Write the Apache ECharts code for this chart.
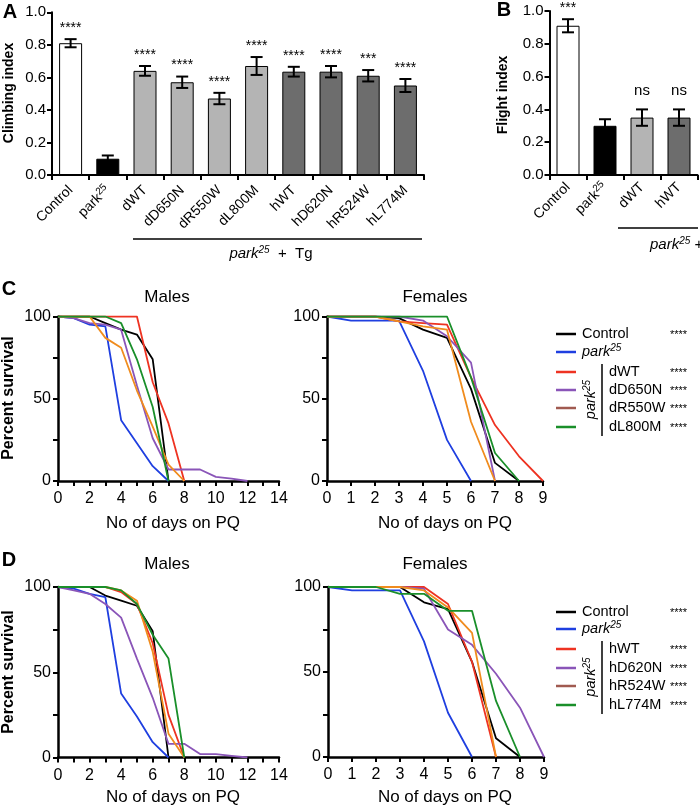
<!DOCTYPE html>
<html><head><meta charset="utf-8">
<script src="https://cdn.jsdelivr.net/npm/echarts@6/dist/echarts.min.js"></script>
<style>html,body{margin:0;padding:0;background:#fff}#c{width:700px;height:807px}</style>
</head><body><div id="c"></div><script>
const FONT = '"Liberation Sans", Arial, sans-serif';

// ---------- Panel A : climbing ----------
const climbCats = ['Control','park25','dWT','dD650N','dR550W','dL800M','hWT','hD620N','hR524W','hL774M'];
const climbMean = [0.81,0.10,0.64,0.57,0.47,0.67,0.635,0.635,0.61,0.55];
const climbErr  = [0.025,0.02,0.03,0.035,0.035,0.055,0.03,0.035,0.035,0.04];
const climbSig  = ['****','','****','****','****','****','****','****','***','****'];
// ---------- Panel B : flight ----------
const flightCats = ['Control','park25','dWT','hWT'];
const flightMean = [0.91,0.30,0.35,0.35];
const flightErr  = [0.04,0.04,0.05,0.05];
const flightSig  = ['***','','ns','ns'];

// ---------- Survival (percent survival at day 0,1,2,...) ----------
// C males
const cmControl = [100,100,100,96,92,89,74,0];
const cmPark    = [100,99,95,94,37,23,9,0];
const cmDWT     = [100,100,100,100,100,100,60,35,0];
const cmDD650N  = [100,99,96,95,92,58,26,7,7,7,2.5,1.5,0];
const cmDR550W  = [100,100,100,87,81,55,33,10,0];
const cmDL800M  = [100,100,100,100,96,74,45,0];
// C females
const cfControl = [100,100,100,99,92,87,56,11,0];
const cfPark    = [100,97.5,97.5,97.5,67,25,0];
const cfDWT     = [100,100,100,97,96,95,63,34,15,0];
const cfDD650N  = [100,100,100,100,97.5,88,72,0];
const cfDR550W  = [100,100,100,97,94,92,36,0];
const cfDL800M  = [100,100,100,100,100,100,63,17,0];
// D males
const dmControl = [100,100,100,95,92,89,74,0];
const dmPark    = [100,99,96,94,37.5,24,9,0];
const dmHWT     = [100,100,100,100,97,90,67,25,0];
const dmHD620N  = [100,98,96,90,82,58,35,8,8,2,2,1,0];
const dmHR524W  = [100,100,100,100,98,92,62,14,0];
const dmHL774M  = [100,100,100,100,98,90,72,58,0];
// D females
const dfControl = [100,100,100,100,91,87,56,11,0];
const dfPark    = [100,98,98,98,68,26,0];
const dfHWT     = [100,100,100,100,100,90,56,0];
const dfHD620N  = [100,100,100,100,99,75,66,49,29,0];
const dfHR524W  = [100,100,100,100,98,88,73,0];
const dfHL774M  = [100,100,100,96,96,86,86,33,0];

const legendC = ['dWT','dD650N','dR550W','dL800M'];
const legendD = ['hWT','hD620N','hR524W','hL774M'];
const sigLegend = '****';

// ---------- styles ----------
const BAR_COLORS = ['#ffffff','#000000','#b4b4b4','#b4b4b4','#b4b4b4','#b4b4b4','#6d6d6d','#6d6d6d','#6d6d6d','#6d6d6d'];
const LINE_COLORS = ['#000000','#1f3fe0','#ee3322','#8a55b8','#f08c1e','#1a8f2a'];
const SWATCH_COLORS = ['#000000','#1f3fe0','#ee3322','#8a55b8','#a05a50','#1a8f2a'];

function rich(fs){
  return {
    n:{fontSize:fs,fontFamily:FONT,color:'#000',lineHeight:fs+3},
    s:{fontSize:Math.round(fs*0.68),fontFamily:FONT,color:'#000',verticalAlign:'top',lineHeight:fs+3},
    i:{fontSize:fs,fontFamily:FONT,fontStyle:'italic',color:'#000',lineHeight:fs+3},
    is:{fontSize:Math.round(fs*0.68),fontFamily:FONT,fontStyle:'italic',color:'#000',verticalAlign:'top',lineHeight:fs+3}
  };
}
function catFmt(v){ return v==='park25' ? '{n|park}{s|25}' : '{n|'+v+'}'; }

function makeErr(sig){
  return function(params, api){
    const i = api.value(0), m = api.value(1), e = api.value(2);
    const t = api.coord([i, m+e]), b = api.coord([i, m-e]);
    const hw = 6;
    const st = {stroke:'#000', lineWidth:2};
    const ch = [
      {type:'line', shape:{x1:t[0],y1:t[1],x2:b[0],y2:b[1]}, style:st},
      {type:'line', shape:{x1:t[0]-hw,y1:t[1],x2:t[0]+hw,y2:t[1]}, style:st},
      {type:'line', shape:{x1:b[0]-hw,y1:b[1],x2:b[0]+hw,y2:b[1]}, style:st}
    ];
    const s = sig[params.dataIndex];
    if (s) ch.push({type:'text', style:{text:s, x:t[0], y:t[1]-(s==='ns'?11:4), align:'center', verticalAlign:'bottom', fontSize:(s==='ns'?15:14), fontFamily:FONT, fill:'#000'}});
    return {type:'group', children:ch};
  };
}

const grids = [
  {left:52, top:12.3, width:372, height:162.7},
  {left:549.5, top:11, width:148, height:164},
  {left:58, top:316.5, width:221, height:164.5},
  {left:327, top:316.5, width:216, height:164.5},
  {left:58, top:587, width:221, height:170.5},
  {left:328, top:587, width:216, height:170},
];

const axLine = w => ({show:true, onZero:false, lineStyle:{color:'#000', width:w}});
const barY = gi => ({type:'value', gridIndex:gi, min:0, max:1, interval:0.2,
  axisLine:axLine(2), axisTick:{show:true, length:5, lineStyle:{color:'#000',width:2}},
  splitLine:{show:false},
  axisLabel:{formatter:v=>v.toFixed(1), fontSize:15, fontFamily:FONT, color:'#000', margin:6}});
const barX = (gi, cats, mg) => ({type:'category', gridIndex:gi, data:cats,
  axisLine:axLine(2), axisTick:{show:true, length:5, lineStyle:{color:'#000',width:2}},
  axisLabel:{rotate:45, interval:0, margin:mg, formatter:catFmt, rich:rich(14), fontSize:14, fontFamily:FONT, color:'#000'}});
const survX = (gi, max, everyOther) => ({type:'value', gridIndex:gi, min:0, max:max, interval:1,
  axisLine:axLine(2.5), axisTick:{show:true, length:5, lineStyle:{color:'#000',width:2}},
  splitLine:{show:false},
  axisLabel:{formatter:v=> (everyOther && v%2!==0) ? '' : String(v), fontSize:16, fontFamily:FONT, color:'#000', margin:10}});
const survY = gi => ({type:'value', gridIndex:gi, min:0, max:100, interval:25,
  axisLine:axLine(2.5), axisTick:{show:true, length:5, lineStyle:{color:'#000',width:2}},
  splitLine:{show:false},
  axisLabel:{formatter:v=> (v%50===0) ? String(v) : '', fontSize:16, fontFamily:FONT, color:'#000', margin:7}});

function lines(gi, arrs){
  return arrs.map((a,k)=>({type:'line', xAxisIndex:gi, yAxisIndex:gi, data:a.map((v,i)=>[i,v]),
    showSymbol:false, symbol:'none', silent:true, animation:false,
    lineStyle:{color:LINE_COLORS[k], width:1.8}, z:2+k}));
}

const series = [
  {type:'bar', xAxisIndex:0, yAxisIndex:0, barWidth:23, animation:false,
   data:climbMean.map((v,i)=>({value:v, itemStyle:{color:BAR_COLORS[i], borderColor:'#000', borderWidth:1}}))},
  {type:'custom', xAxisIndex:0, yAxisIndex:0, renderItem:makeErr(climbSig), animation:false,
   data:climbMean.map((v,i)=>[i,v,climbErr[i]]), z:5},
  {type:'bar', xAxisIndex:1, yAxisIndex:1, barWidth:23, animation:false,
   data:flightMean.map((v,i)=>({value:v, itemStyle:{color:[BAR_COLORS[0],BAR_COLORS[1],BAR_COLORS[2],BAR_COLORS[6]][i], borderColor:'#000', borderWidth:1}}))},
  {type:'custom', xAxisIndex:1, yAxisIndex:1, renderItem:makeErr(flightSig), animation:false,
   data:flightMean.map((v,i)=>[i,v,flightErr[i]]), z:5},
  ...lines(2,[cmControl,cmPark,cmDWT,cmDD650N,cmDR550W,cmDL800M]),
  ...lines(3,[cfControl,cfPark,cfDWT,cfDD650N,cfDR550W,cfDL800M]),
  ...lines(4,[dmControl,dmPark,dmHWT,dmHD620N,dmHR524W,dmHL774M]),
  ...lines(5,[dfControl,dfPark,dfHWT,dfHD620N,dfHR524W,dfHL774M]),
];

// ---------- graphic text / decorations ----------
const G = [];
function txt(x,y,text,opt){ G.push({type:'text', x:x, y:y, style:Object.assign({text:text, fontFamily:FONT, fill:'#000', fontSize:14, align:'center', verticalAlign:'middle'}, opt||{})}); }
function hline(x1,x2,y,w,c){ G.push({type:'line', shape:{x1:x1,y1:y,x2:x2,y2:y}, style:{stroke:c||'#000', lineWidth:w||1.5}}); }
function vline(x,y1,y2,w){ G.push({type:'line', shape:{x1:x,y1:y1,x2:x,y2:y2}, style:{stroke:'#000', lineWidth:w||1.5}}); }
function vtxt(x,y,text,opt){ G.push({type:'text', x:x, y:y, rotation:Math.PI/2, style:Object.assign({text:text, fontFamily:FONT, fill:'#000', align:'center', verticalAlign:'middle'}, opt||{})}); }

// panel letters
txt(10,12,'A',{fontSize:20,fontWeight:'bold'});
txt(504,10,'B',{fontSize:20,fontWeight:'bold'});
txt(9,289,'C',{fontSize:20,fontWeight:'bold'});
txt(9,560,'D',{fontSize:20,fontWeight:'bold'});
// axis names
vtxt(9,93,'Climbing index',{fontWeight:'bold',fontSize:14});
vtxt(503,95,'Flight index',{fontWeight:'bold',fontSize:14});
vtxt(9,398,'Percent survival',{fontWeight:'bold',fontSize:16});
vtxt(9,672,'Percent survival',{fontWeight:'bold',fontSize:16});
// brackets under bar panels
hline(133,422,239,1.5);
txt(271,254,'{i|park}{is|25}{n|  +  Tg}',{rich:rich(15)});
hline(618,698,228,1.5);
txt(650,245,'{i|park}{is|25}{n| + Tg}',{rich:rich(15), align:'left'});
// survival titles and x names
txt(167,297,'Males',{fontSize:17});
txt(435,297,'Females',{fontSize:17});
txt(167,564,'Males',{fontSize:17});
txt(435,564,'Females',{fontSize:17});
txt(173,523,'No of days on PQ',{fontSize:17});
txt(445,523,'No of days on PQ',{fontSize:17});
txt(173,797,'No of days on PQ',{fontSize:17});
txt(445,797,'No of days on PQ',{fontSize:17});

// legends
function legend(ys, sub){
  const names = ['Control','park25'].concat(sub);
  names.forEach((nm,k)=>{
    const y = ys[k];
    hline(556,576,y,2.5,SWATCH_COLORS[k]);
    const x = k<2 ? 582 : 609;
    if (nm==='park25') txt(x,y,'{i|park}{is|25}',{rich:rich(14.5), align:'left'});
    else txt(x,y,nm,{fontSize:14.5, align:'left'});
    if (k!==1) txt(670,y+1,sigLegend,{fontSize:11, align:'left'});
  });
  vline(602, ys[2]-8, ys[5]+9, 1.5);
  vtxt(591,(ys[2]+ys[5])/2,'{i|park}{is|25}',{rich:rich(14.5)});
}
legend([334,352,372,390,408,427], legendC);
legend([612,629,649,668,686,705], legendD);

const chart = echarts.init(document.getElementById('c'));
chart.setOption({
  animation:false,
  backgroundColor:'#fff',
  textStyle:{fontFamily:FONT},
  grid:grids,
  xAxis:[barX(0,climbCats,13), barX(1,flightCats,10), survX(2,14,true), survX(3,9,false), survX(4,14,true), survX(5,9,false)],
  yAxis:[barY(0), barY(1), survY(2), survY(3), survY(4), survY(5)],
  series:series,
  graphic:G
});
</script></body></html>
